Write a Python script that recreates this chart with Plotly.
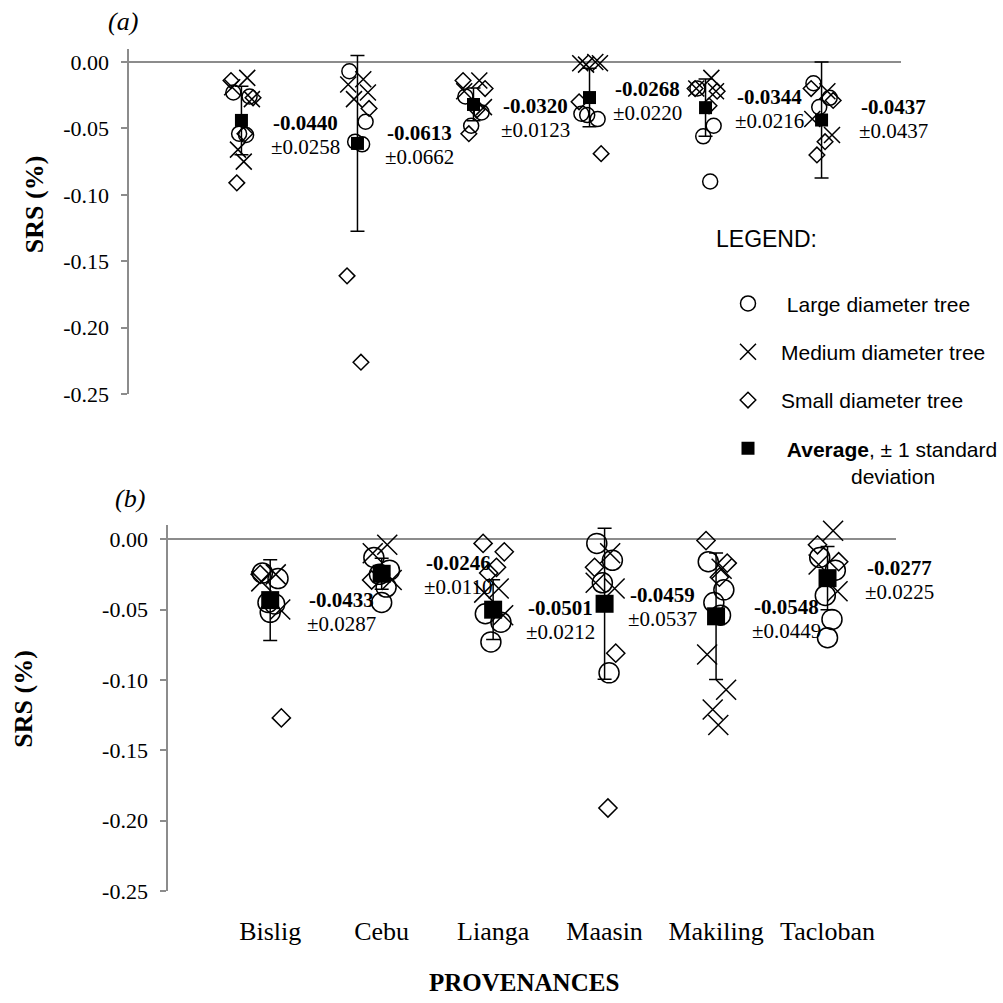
import plotly.graph_objects as go

# ---------------------------------------------------------------------------
# Data
# ---------------------------------------------------------------------------
PROVENANCES = ["Bislig", "Cebu", "Lianga", "Maasin", "Makiling", "Tacloban"]

Y_TICK_VALUES = [0.0, -0.05, -0.10, -0.15, -0.20, -0.25]
Y_TICK_LABELS = ["0.00", "-0.05", "-0.10", "-0.15", "-0.20", "-0.25"]

# Panel (a): SRS (%) of individual trees, one list per provenance
A_LARGE = [
    [-0.023, -0.026, -0.054, -0.055],
    [-0.007, -0.045, -0.060, -0.062],
    [-0.026, -0.038, -0.048],
    [-0.039, -0.043, -0.040],
    [-0.020, -0.048, -0.056, -0.090],
    [-0.016, -0.027, -0.034],
]
A_MEDIUM = [
    [-0.012, -0.019, -0.028, -0.066, -0.075],
    [-0.013, -0.017, -0.023, -0.028],
    [-0.014, -0.022, -0.034],
    [-0.000, -0.001, -0.001, -0.002],
    [-0.012, -0.020, -0.022],
    [-0.022, -0.043, -0.055],
]
A_SMALL = [
    [-0.014, -0.027, -0.054, -0.091],
    [-0.161, -0.035, -0.226],
    [-0.014, -0.020, -0.036, -0.054],
    [-0.030, -0.069],
    [-0.020, -0.022, -0.033],
    [-0.020, -0.029, -0.060, -0.070],
]
A_MEAN = [-0.0440, -0.0613, -0.0320, -0.0268, -0.0344, -0.0437]
A_SD = [0.0258, 0.0662, 0.0123, 0.0220, 0.0216, 0.0437]

# Panel (b)
B_LARGE = [
    [-0.024, -0.028, -0.045, -0.046, -0.052],
    [-0.013, -0.022, -0.025, -0.034, -0.045],
    [-0.053, -0.059, -0.073],
    [-0.003, -0.015, -0.031, -0.095],
    [-0.016, -0.036, -0.045, -0.054],
    [-0.013, -0.022, -0.040, -0.057, -0.070],
]
B_MEDIUM = [
    [-0.025, -0.030, -0.050],
    [-0.004, -0.010, -0.029],
    [-0.035, -0.038, -0.054],
    [-0.010, -0.031, -0.035],
    [-0.021, -0.082, -0.107, -0.121, -0.132],
    [0.006, -0.018, -0.037],
]
B_SMALL = [
    [-0.025, -0.127],
    [-0.029],
    [-0.003, -0.009, -0.020, -0.024],
    [-0.020, -0.081, -0.191],
    [-0.001, -0.017, -0.027],
    [-0.004, -0.016],
]
B_MEAN = [-0.0433, -0.0246, -0.0501, -0.0459, -0.0548, -0.0277]
B_SD = [0.0287, 0.0110, 0.0212, 0.0537, 0.0449, 0.0225]

# ---------------------------------------------------------------------------
# Styling
# ---------------------------------------------------------------------------
W = H = 1003
SERIF = "Liberation Serif, Times New Roman, serif"
SANS = "Liberation Sans, Arial, sans-serif"
AXIS_GREY = "#8c8c8c"

# small horizontal spread of the tree markers around each provenance
JITTER = {
    "large": [-0.07, 0.07, -0.02, 0.04, 0.0],
    "medium": [0.05, -0.08, 0.09, -0.03, 0.02],
    "small": [-0.09, 0.10, 0.03, -0.04, 0.06],
}

# pixel offsets (right, down) of the mean label relative to the mean marker
LABEL_SHIFT_A = [(30, 3), (28, -10), (28, 2), (23, -9), (29, -11), (37, -13)]
LABEL_SHIFT_B = [(37, 0), (42, -11), (33, -2), (23, -9), (36, -9), (37, -10)]
SD_LINE_GAP = 24


def px(x):
    return x / W


def py(y):
    return 1 - y / H


def spread(groups, kind):
    xs, ys = [], []
    jit = JITTER[kind]
    for i, vals in enumerate(groups):
        for k, v in enumerate(vals):
            xs.append(i + jit[k % len(jit)])
            ys.append(v)
    return xs, ys


fig = go.Figure()

panels = [
    ("x", "y", A_LARGE, A_MEDIUM, A_SMALL, A_MEAN, A_SD, True,
     dict(circle=15, x=16, diamond=12, square=13)),
    ("x2", "y2", B_LARGE, B_MEDIUM, B_SMALL, B_MEAN, B_SD, False,
     dict(circle=20, x=20, diamond=14, square=18)),
]

for xa, ya, large, medium, small, mean, sd, legend, sz in panels:
    lx, ly = spread(large, "large")
    fig.add_trace(go.Scatter(
        x=lx, y=ly, xaxis=xa, yaxis=ya, mode="markers",
        name="\u00a0Large diameter tree", legendgroup="large",
        showlegend=legend, cliponaxis=False,
        marker=dict(symbol="circle-open", size=sz["circle"], color="black",
                    line=dict(width=1.5, color="black")),
    ))
    mx, my = spread(medium, "medium")
    fig.add_trace(go.Scatter(
        x=mx, y=my, xaxis=xa, yaxis=ya, mode="markers",
        name="Medium diameter tree", legendgroup="medium",
        showlegend=legend, cliponaxis=False,
        marker=dict(symbol="x-thin-open", size=sz["x"], color="black",
                    line=dict(width=1.5, color="black")),
    ))
    sx, sy = spread(small, "small")
    fig.add_trace(go.Scatter(
        x=sx, y=sy, xaxis=xa, yaxis=ya, mode="markers",
        name="Small diameter tree", legendgroup="small",
        showlegend=legend, cliponaxis=False,
        marker=dict(symbol="diamond-open", size=sz["diamond"], color="black",
                    line=dict(width=1.5, color="black")),
    ))
    fig.add_trace(go.Scatter(
        x=list(range(len(PROVENANCES))), y=mean, xaxis=xa, yaxis=ya,
        mode="markers",
        name="\u00a0<b>Average</b>, \u00b1 1 standard<br>"
             + "\u00a0" * 12 + "deviation",
        legendgroup="avg", showlegend=legend, cliponaxis=False,
        marker=dict(symbol="square", size=sz["square"], color="black"),
        error_y=dict(type="data", array=sd, visible=True, color="black",
                     thickness=1.5, width=7),
    ))

# mean +/- sd labels next to each average marker
for xa, ya, mean, sd, shifts in [("x", "y", A_MEAN, A_SD, LABEL_SHIFT_A),
                                 ("x2", "y2", B_MEAN, B_SD, LABEL_SHIFT_B)]:
    for i, (m, s, (dx, dy)) in enumerate(zip(mean, sd, shifts)):
        fig.add_annotation(
            x=i, y=m, xref=xa, yref=ya, xanchor="left", yanchor="middle",
            xshift=dx, yshift=-dy, showarrow=False,
            text=f"<b>{m:.4f}</b>",
            font=dict(family=SERIF, size=21, color="black"),
        )
        fig.add_annotation(
            x=i, y=m, xref=xa, yref=ya, xanchor="left", yanchor="middle",
            xshift=dx - 2, yshift=-dy - SD_LINE_GAP, showarrow=False,
            text=f"\u00b1{s:.4f}",
            font=dict(family=SERIF, size=21, color="black"),
        )

yaxis_style = dict(
    range=[-0.25, 0.01], tickvals=Y_TICK_VALUES, ticktext=Y_TICK_LABELS,
    showline=True, linecolor=AXIS_GREY, linewidth=2,
    ticks="outside", ticklen=6, tickwidth=2, tickcolor=AXIS_GREY,
    zeroline=True, zerolinecolor=AXIS_GREY, zerolinewidth=2,
    showgrid=False, ticklabelstandoff=8,
    tickfont=dict(family=SERIF, size=22, color="black"),
)

fig.update_layout(
    width=W, height=H, autosize=False,
    margin=dict(l=0, r=0, t=0, b=0),
    paper_bgcolor="white", plot_bgcolor="white",
    xaxis=dict(domain=[px(130), px(905)], range=[-0.965, 5.688],
               showticklabels=False, showgrid=False, zeroline=False,
               showline=False, ticks=""),
    yaxis=dict(domain=[py(399.3), py(49.3)], anchor="x", **yaxis_style),
    xaxis2=dict(domain=[px(169), px(900)], range=[-0.914, 5.618],
                anchor="y2", tickvals=list(range(len(PROVENANCES))),
                ticktext=PROVENANCES, showgrid=False, zeroline=False,
                showline=False, ticks="", ticklabelstandoff=22,
                tickfont=dict(family=SERIF, size=26, color="black")),
    yaxis2=dict(domain=[py(902.7), py(532)], anchor="x2", **yaxis_style),
    showlegend=True,
    legend=dict(
        x=px(718), y=py(287), xanchor="left", yanchor="top",
        font=dict(family=SANS, size=21, color="black"),
        tracegroupgap=18, valign="top", itemwidth=56,
        bgcolor="rgba(0,0,0,0)",
        itemclick=False, itemdoubleclick=False,
    ),
)

# panel letters, axis titles and legend heading
texts = [
    ("<i>(a)</i>", 123, 22, SERIF, 26, 0),
    ("<i>(b)</i>", 131, 505, SERIF, 26, 0),
    ("<b>SRS (%)</b>", 34, 207, SERIF, 26, -90),
    ("<b>SRS (%)</b>", 24, 708, SERIF, 26, -90),
    ("<b>PROVENANCES</b>", 526, 995, SERIF, 25, 0),
]
for t, x, y, fam, size, ang in texts:
    fig.add_annotation(
        x=px(x), y=py(y), xref="paper", yref="paper", showarrow=False,
        xanchor="center", yanchor="middle", text=t, textangle=ang,
        font=dict(family=fam, size=size, color="black"),
    )
fig.add_annotation(
    x=px(717), y=py(242), xref="paper", yref="paper", showarrow=False,
    xanchor="left", yanchor="middle", text="LEGEND:",
    font=dict(family=SANS, size=23, color="black"),
)

fig.write_html("out.html")
